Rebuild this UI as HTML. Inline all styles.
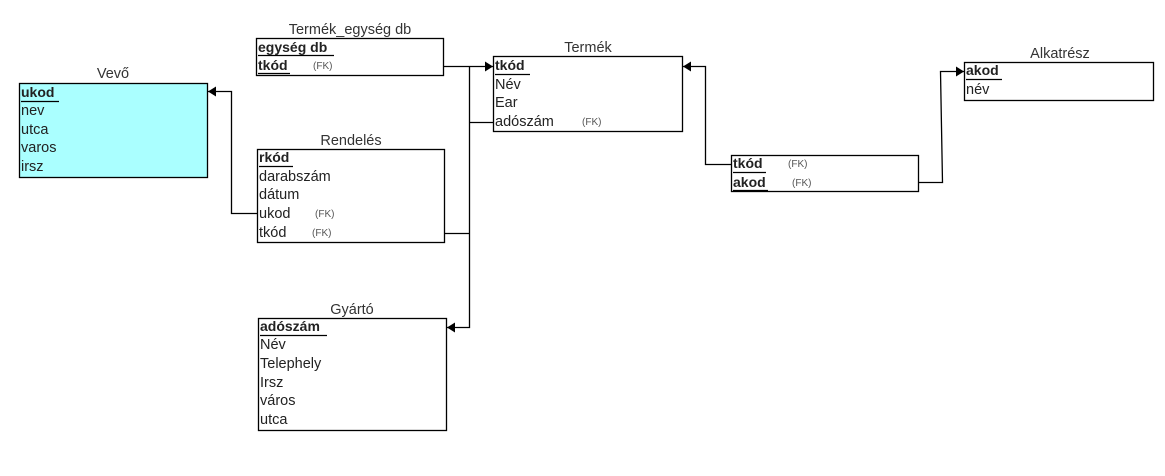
<!DOCTYPE html>
<html><head><meta charset="utf-8"><style>
html,body{margin:0;padding:0;background:#fff;}
svg text{font-family:"Liberation Sans",Arial,sans-serif;font-size:14.5px;fill:#222;}
.t{fill:#333;}
.b{font-weight:bold;font-size:14px;}
.fk{font-size:10px;fill:#555;}
</style></head><body>
<svg width="1165" height="471" viewBox="0 0 1165 471" xmlns="http://www.w3.org/2000/svg">
<defs><marker id="a" markerWidth="8" markerHeight="10" refX="8" refY="5" orient="auto" markerUnits="userSpaceOnUse"><path d="M0,0 L8,5 L0,10 Z" fill="#000"/></marker></defs>
<g fill="none" stroke="#000" stroke-width="1.3">
<rect x="19.5" y="83.5" width="188" height="94" fill="#aaffff"/>
<rect x="256.5" y="38.5" width="187" height="37"/>
<rect x="257.5" y="149.5" width="187" height="93"/>
<rect x="258.5" y="318.5" width="188" height="112"/>
<rect x="493.5" y="56.5" width="189" height="75"/>
<rect x="731.5" y="155.5" width="187" height="36"/>
<rect x="964.5" y="62.5" width="189" height="38"/>
<path d="M443.5,66.5 H469.5 M469.5,66.5 H493" marker-end="url(#a)"/>
<path d="M469.5,66.5 V327.5 H447" marker-end="url(#a)"/>
<path d="M469.5,122.5 H493.5"/>
<path d="M444.5,233.5 H469.5"/>
<path d="M257.5,213.5 H231.5 V91.5 H208" marker-end="url(#a)"/>
<path d="M731.5,164.5 H705.5 V66.5 H683" marker-end="url(#a)"/>
<path d="M918.5,182.5 H942.5 L940.5,71.5 H964" marker-end="url(#a)"/>
<path d="M21,101.5 H59 M258,55.5 H334 M258,73.5 H290 M259,166.5 H293 M260,335.5 H327 M495,74.5 H530 M733,172.5 H766 M733,190.5 H768 M966,79.5 H1002" stroke-width="1.2"/>
</g>
<text class="t" x="113" y="78" text-anchor="middle">Vevő</text>
<text class="t" x="350" y="34" text-anchor="middle">Termék_egység db</text>
<text class="t" x="351" y="145" text-anchor="middle">Rendelés</text>
<text class="t" x="352" y="314" text-anchor="middle">Gyártó</text>
<text class="t" x="588" y="52" text-anchor="middle">Termék</text>
<text class="t" x="1060" y="58" text-anchor="middle">Alkatrész</text>
<text class="b" x="21" y="97">ukod</text>
<text x="21" y="115">nev</text>
<text x="21" y="134">utca</text>
<text x="21" y="152">varos</text>
<text x="21" y="171">irsz</text>
<text class="b" x="258" y="52">egység db</text>
<text class="b" x="258" y="70">tkód</text>
<text class="fk" x="313" y="69">(FK)</text>
<text class="b" x="259" y="162">rkód</text>
<text x="259" y="181">darabszám</text>
<text x="259" y="199">dátum</text>
<text x="259" y="218">ukod</text>
<text class="fk" x="315" y="217">(FK)</text>
<text x="259" y="237">tkód</text>
<text class="fk" x="312" y="236">(FK)</text>
<text class="b" x="260" y="331">adószám</text>
<text x="260" y="349">Név</text>
<text x="260" y="368">Telephely</text>
<text x="260" y="387">Irsz</text>
<text x="260" y="405">város</text>
<text x="260" y="424">utca</text>
<text class="b" x="495" y="70">tkód</text>
<text x="495" y="89">Név</text>
<text x="495" y="107">Ear</text>
<text x="495" y="126">adószám</text>
<text class="fk" x="582" y="125">(FK)</text>
<text class="b" x="733" y="168">tkód</text>
<text class="fk" x="788" y="167">(FK)</text>
<text class="b" x="733" y="187">akod</text>
<text class="fk" x="792" y="186">(FK)</text>
<text class="b" x="966" y="75">akod</text>
<text x="966" y="94">név</text>
</svg>
</body></html>
